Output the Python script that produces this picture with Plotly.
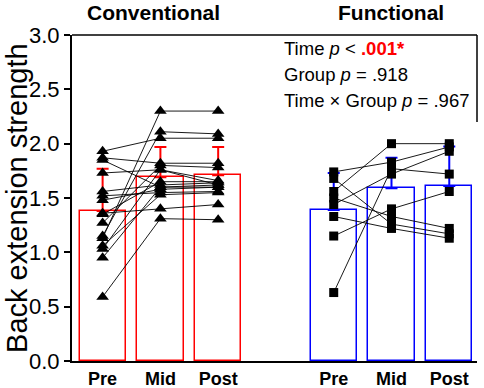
import plotly.graph_objects as go

# ---- data ----
time_labels = ["Pre", "Mid", "Post"]
group_names = ["Conventional", "Functional"]

conv_mean = [1.38, 1.69, 1.71]
conv_upper = [1.77, 1.97, 1.97]
func_mean = [1.39, 1.59, 1.61]
func_upper = [1.73, 1.87, 1.975]

conv_pre = [1.93, 1.87, 1.85, 1.73, 1.56, 1.52, 1.48, 1.36, 1.35, 1.27, 1.15, 1.13, 1.06, 1.03, 0.95, 0.59]
conv_mid = [2.05, 1.82, 1.60, 1.76, 1.62, 1.55, 1.58, 1.40, 1.65, 1.80, 2.11, 2.30, 1.53, 1.76, 1.60, 1.31]
conv_post = [2.05, 1.82, 1.62, 1.66, 1.64, 1.56, 1.60, 1.44, 1.65, 1.78, 2.09, 2.30, 1.55, 1.62, 1.60, 1.30]

func_pre = [1.74, 1.68, 1.56, 1.50, 1.44, 1.33, 1.15, 0.63]
func_mid = [1.83, 1.26, 2.00, 1.33, 1.72, 1.22, 1.40, 1.77]
func_post = [1.97, 1.17, 2.00, 1.22, 1.93, 1.13, 1.56, 1.72]

conv_x = [0, 1, 2]
func_x = [4, 5, 6]

FONT = "Arial, Liberation Sans, sans-serif"

fig = go.Figure()


def add_group(xs, means, uppers, pre, mid, post, color, symbol, msize):
    fig.add_trace(go.Bar(
        x=xs, y=means, width=0.8,
        marker=dict(color="rgba(0,0,0,0)", line=dict(color=color, width=1.5)),
        error_y=dict(type="data", symmetric=False,
                     array=[u - m for u, m in zip(uppers, means)],
                     arrayminus=[0, 0, 0],
                     color=color, thickness=2, width=6),
        showlegend=False, hoverinfo="skip"))
    lx, ly = [], []
    for a, b, c in zip(pre, mid, post):
        lx += [xs[0], xs[1], xs[2], None]
        ly += [a, b, c, None]
    fig.add_trace(go.Scatter(x=lx, y=ly, mode="lines",
                             line=dict(color="black", width=0.9),
                             showlegend=False, hoverinfo="skip"))
    mx, my = [], []
    for xi, vals in zip(xs, [pre, mid, post]):
        mx += [xi] * len(vals)
        my += vals
    fig.add_trace(go.Scatter(x=mx, y=my, mode="markers",
                             marker=dict(symbol=symbol, size=msize, color="black"),
                             showlegend=False, hoverinfo="skip"))


add_group(conv_x, conv_mean, conv_upper, conv_pre, conv_mid, conv_post, "red", "triangle-up", 11)
add_group(func_x, func_mean, func_upper, func_pre, func_mid, func_post, "blue", "square", 9)

fig.update_layout(
    width=484, height=388,
    margin=dict(l=72, r=7, t=35, b=27),
    plot_bgcolor="white", paper_bgcolor="white",
    font=dict(family=FONT, color="black"),
    bargap=0,
    xaxis=dict(range=[-0.53, 6.48], tickvals=conv_x + func_x,
               ticktext=["<b>%s</b>" % t for t in time_labels] * 2,
               tickfont=dict(size=18), showline=True, linecolor="black", linewidth=2,
               ticks="", showgrid=False, zeroline=False, fixedrange=True,
               automargin=False),
    yaxis=dict(range=[0, 3], dtick=0.5, tickformat=".1f", tickfont=dict(size=22),
               showline=True, linecolor="black", linewidth=2, ticks="outside",
               ticklen=6, tickwidth=2, tickcolor="black",
               showgrid=False, zeroline=False, fixedrange=True, automargin=False),
)

# frame on top and right of annotation region
fig.add_shape(type="line", xref="paper", yref="paper", x0=0, x1=1, y0=1, y1=1,
              line=dict(color="black", width=1.5))
fig.add_shape(type="line", xref="paper", yref="y", x0=1, x1=1, y0=3.0, y1=2.2,
              line=dict(color="black", width=1.5))

fig.add_annotation(text="Back extension strength", xref="paper", yref="paper",
                   x=-0.136, y=0.5, textangle=-90, showarrow=False,
                   font=dict(size=29), xanchor="center", yanchor="middle")

for name, xc in zip(group_names, [0.20, 0.788]):
    fig.add_annotation(text="<b>%s</b>" % name, xref="paper", yref="paper",
                       x=xc, y=1.07, showarrow=False, font=dict(size=21),
                       xanchor="center", yanchor="middle")

stats_lines = [
    "Time <i>p</i> &lt; <span style='color:red'><b>.001*</b></span>",
    "Group <i>p</i> = .918",
    "Time × Group <i>p</i> = .967",
]
for txt, yy in zip(stats_lines, [0.960, 0.879, 0.800]):
    fig.add_annotation(text=txt, xref="paper", yref="paper", x=0.518, y=yy,
                       showarrow=False, xanchor="left", yanchor="middle",
                       font=dict(size=18.5))

fig.write_html("out.html", config={"displayModeBar": False},
               post_script="document.body.style.margin='0';document.body.style.overflow='hidden';")
